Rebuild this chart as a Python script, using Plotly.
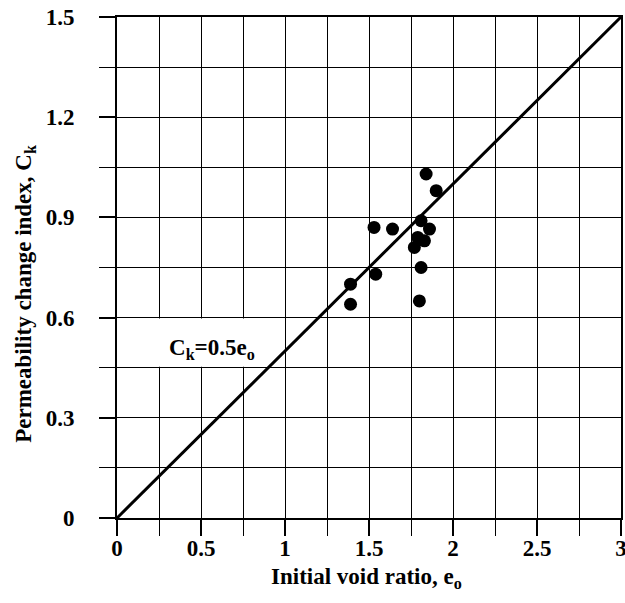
import plotly.graph_objects as go

# Data
void_ratio = [1.84, 1.90, 1.81, 1.53, 1.64, 1.86, 1.79, 1.83, 1.77, 1.81, 1.54, 1.39, 1.39, 1.80]
ck_index   = [1.03, 0.98, 0.89, 0.87, 0.865, 0.865, 0.84, 0.83, 0.81, 0.75, 0.73, 0.70, 0.64, 0.65]

line_x = [0, 3]
line_y = [0, 1.5]

x_ticks = [0, 0.5, 1, 1.5, 2, 2.5, 3]
x_tick_labels = ["0", "0.5", "1", "1.5", "2", "2.5", "3"]
y_ticks = [0, 0.3, 0.6, 0.9, 1.2, 1.5]
y_tick_labels = ["0", "0.3", "0.6", "0.9", "1.2", "1.5"]

FONT = "Liberation Serif"

fig = go.Figure()
fig.add_trace(go.Scatter(x=line_x, y=line_y, mode="lines",
                         line=dict(color="black", width=3), showlegend=False))
fig.add_trace(go.Scatter(x=void_ratio, y=ck_index, mode="markers",
                         marker=dict(color="black", size=13), showlegend=False))

# white box behind the equation label (covers the grid in that cell row)
fig.add_shape(type="rect", xref="x", yref="y", x0=0.004, x1=0.992, y0=0.453, y1=0.597,
              fillcolor="white", line=dict(width=0), layer="between")

fig.add_annotation(x=0.565, y=0.505, xref="x", yref="y", showarrow=False,
                   xanchor="center", yanchor="middle",
                   text="<b>C<sub>k</sub>=0.5e<sub>o</sub></b>",
                   font=dict(family=FONT, size=23, color="black"))

# axis titles as annotations for precise placement
fig.add_annotation(x=-0.183, y=0.447, xref="paper", yref="paper", showarrow=False,
                   xanchor="center", yanchor="middle",
                   textangle=-90, text="<b>Permeability change index, C<sub>k</sub></b>",
                   font=dict(family=FONT, size=23, color="black"))
fig.add_annotation(x=0.495, y=-0.12, xref="paper", yref="paper", showarrow=False,
                   xanchor="center", yanchor="middle",
                   text="<b>Initial void ratio, e<sub>o</sub></b>",
                   font=dict(family=FONT, size=23, color="black"))

axis_common = dict(
    showline=True, linecolor="black", linewidth=2, mirror=True,
    showgrid=True, gridcolor="black", gridwidth=1,
    ticks="outside", ticklen=16, tickwidth=1.5, tickcolor="black",
    zeroline=False, automargin=False, ticklabeloverflow="allow",
    tickfont=dict(family=FONT, size=23, color="black", weight="bold"),
)

fig.update_xaxes(range=[0, 3], tickvals=x_ticks, ticktext=x_tick_labels,
                 ticklabelstandoff=-8,
                 minor=dict(tick0=0, dtick=0.25, ticks="outside", ticklen=16, tickwidth=1,
                            tickcolor="black", showgrid=True, gridcolor="black", gridwidth=1),
                 **axis_common)
fig.update_yaxes(range=[0, 1.5], tickvals=y_ticks, ticktext=y_tick_labels,
                 ticklabelstandoff=20,
                 minor=dict(tick0=0, dtick=0.15, ticks="outside", ticklen=16, tickwidth=1,
                            tickcolor="black", showgrid=True, gridcolor="black", gridwidth=1),
                 **axis_common)

fig.update_layout(
    width=625, height=603,
    margin=dict(l=117, r=4, t=17, b=85),
    plot_bgcolor="white", paper_bgcolor="white",
    showlegend=False,
)

fig.write_html("out.html")
